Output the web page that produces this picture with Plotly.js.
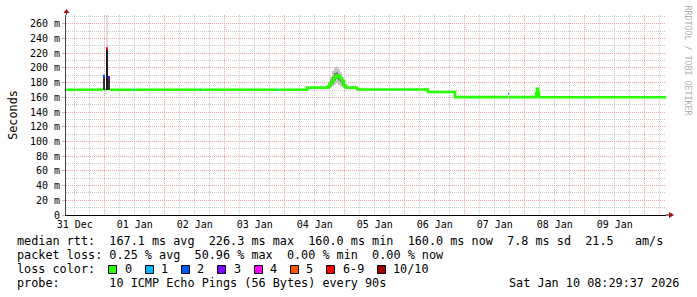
<!DOCTYPE html>
<html><head><meta charset="utf-8">
<script src="https://cdn.plot.ly/plotly-3.0.1.min.js"></script>
<style>html,body{margin:0;padding:0;background:#fff}#chart{width:697px;height:297px}</style>
</head><body><div id="chart"></div>
<script>
// ---- data ----
const rangeStart = '2025-12-31 08:29:37';
const rangeEnd = '2026-01-10 08:29:37';

// median RTT (ms) as steps; each value holds until the next time
const medianTimes = [
  '2025-12-31 08:29:37','2025-12-31 23:18','2026-01-01 00:06','2026-01-01 00:30','2026-01-01 01:18',
  '2026-01-01 02:06','2026-01-01 11:18','2026-01-01 11:42','2026-01-02 14:06','2026-01-02 14:30',
  '2026-01-03 20:30','2026-01-03 20:54','2026-01-04 08:54','2026-01-04 17:18','2026-01-04 18:06',
  '2026-01-04 18:54','2026-01-04 19:42','2026-01-04 20:30','2026-01-04 21:18','2026-01-04 22:06',
  '2026-01-04 22:54','2026-01-04 23:42','2026-01-05 00:30','2026-01-05 04:54','2026-01-06 09:18',
  '2026-01-06 20:06','2026-01-07 17:18','2026-01-07 17:42','2026-01-08 04:30','2026-01-08 04:54',
  '2026-01-08 05:18','2026-01-08 05:42','2026-01-10 08:29:37'
];
const medianValues = [
  170.3,189,170.3,226.3,187,
  170.3,170.3,170.3,170.3,170.3,
  170.3,170.3,173.2,175,179,
  183,187,190,188,186,
  182,176,173.2,170.6,167.2,
  160.3,165,160.3,166,171.5,
  167,160.1,160.0
];
// lost pings out of 10
const medianLoss = [
  0,2,0,6,3,
  0,1,0,1,0,
  1,0,0,0,0,
  0,0,0,0,0,
  0,0,0,0,0,
  0,1,0,0,0,
  0,0,0
];

// smoke (ping spread) samples, ms
const smokeTimes = [
  '2025-12-31 23:42','2026-01-01 00:54','2026-01-01 01:42',
  '2026-01-04 17:42','2026-01-04 18:30','2026-01-04 19:18','2026-01-04 20:06','2026-01-04 20:54',
  '2026-01-04 21:42','2026-01-04 22:30','2026-01-04 23:18','2026-01-05 00:06',
  '2026-01-04 17:42','2026-01-04 18:30','2026-01-04 19:18','2026-01-04 20:06','2026-01-04 20:54',
  '2026-01-04 21:42','2026-01-04 22:30','2026-01-04 23:18','2026-01-05 00:06',
  '2026-01-08 04:54'
];
const smokeLo = [170,170,170, 172,173,175,177,179,177,175,173,172, 173,176,179,183,185,183,181,177,173, 160];
const smokeHi = [190,226.3,189, 180,188,196,201,202,199,194,186,176, 177,183,188,193,194,191,188,182,174, 173];
const smokeDensity = [2,3,2, 0,0,0,0,0,0,0,0,0, 1,1,1,1,1,1,1,1,1, 1];

// max ping outlier
const maxTimes = ['2026-01-01 00:54'];
const maxLo = [226.3];
const maxHi = [280];

const yTickVals = [0,20,40,60,80,100,120,140,160,180,200,220,240,260];
const yTickText = ['0','20 m','40 m','60 m','80 m','100 m','120 m','140 m','160 m','180 m','200 m','220 m','240 m','260 m'];

const lossLabels = ['0','1','2','3','4','5','6-9','10/10'];
const lossColors = ['#26ff00','#00b8ff','#0059ff','#7e00ff','#ff00ff','#ff5500','#ff0000','#a00000'];

const statLines = [
  'median rtt:  167.1 ms avg  226.3 ms max  160.0 ms min  160.0 ms now  7.8 ms sd  21.5   am/s',
  'packet loss: 0.25 % avg  50.96 % max  0.00 % min  0.00 % now',
  'loss color:',
  'probe:       10 ICMP Echo Pings (56 Bytes) every 90s'
];
const stampText = 'Sat Jan 10 08:29:37 2026';
const watermark = 'RRDTOOL / TOBI OETIKER';

// ---- build ----
const MONO = 'DejaVu Sans Mono';
const L = 66, R = 666, T = 15, B = 215;
const px = x => (x - L) / (R - L);
const py = y => (B - y) / (B - T);

function bucket(l){ return l >= 10 ? 7 : (l >= 6 ? 6 : l); }
const segs = lossColors.map(() => ({x: [], y: []}));
let prevB = -1;
for (let i = 0; i < medianTimes.length - 1; i++) {
  const b = bucket(medianLoss[i]);
  const s = segs[b];
  if (b !== prevB && s.x.length) { s.x.push(null); s.y.push(null); }
  s.x.push(medianTimes[i], medianTimes[i + 1]);
  s.y.push(medianValues[i], medianValues[i]);
  prevB = b;
}

const shades = ['#c4c4c4', '#707070', '#343434', '#1c1c1c'];
const traces = [];
traces.push({
  type: 'bar', x: smokeTimes, base: smokeLo,
  y: smokeHi.map((h, i) => h - smokeLo[i]),
  width: 48 * 60 * 1000,
  marker: {color: smokeDensity.map(d => shades[d]), line: {width: 0}},
  hoverinfo: 'skip', showlegend: false
});
traces.push({
  type: 'bar', x: maxTimes, base: maxLo,
  y: maxHi.map((h, i) => h - maxLo[i]),
  width: 24 * 60 * 1000,
  marker: {color: '#c4c4c4', line: {width: 0}},
  hoverinfo: 'skip', showlegend: false
});
segs.forEach((s, b) => {
  if (!s.x.length) return;
  traces.push({
    type: 'scatter', mode: 'lines', x: s.x, y: s.y,
    line: {color: lossColors[b], width: 2.6},
    connectgaps: false, hoverinfo: 'skip', showlegend: false
  });
});

const RED = '#eda3a3', GRAY = '#cbcbcb', DASH = '1px,1px';

const annotations = [];
const shapes = [];
const lineY = [241, 255, 269, 283];
statLines.forEach((t, i) => {
  annotations.push({xref: 'paper', yref: 'paper', x: px(15), y: py(lineY[i]), xanchor: 'left', yanchor: 'middle',
    text: t.replace(/ /g, '&nbsp;'), showarrow: false, font: {family: MONO, size: 11.8, color: '#000'}});
});
annotations.push({xref: 'paper', yref: 'paper', x: px(681), y: py(lineY[3]), xanchor: 'right', yanchor: 'middle',
  text: stampText.replace(/ /g, '&nbsp;'), showarrow: false, font: {family: MONO, size: 11.8, color: '#000'}});
annotations.push({xref: 'paper', yref: 'paper', x: px(687.5), y: py(60), xanchor: 'center', yanchor: 'middle',
  text: watermark.replace(/ /g, '&nbsp;'), textangle: 90, showarrow: false, font: {family: MONO, size: 8.3, color: '#b0b0b0'}});

// loss colour key
const CW = 7.1;
let boxLeft = 16 + 13 * CW;
lossLabels.forEach((lab, i) => {
  shapes.push({type: 'rect', xref: 'paper', yref: 'paper', x0: px(Math.round(boxLeft) + 0.5), x1: px(Math.round(boxLeft) + 8.5),
    y0: py(265.5), y1: py(273.5), fillcolor: lossColors[i], line: {color: '#000', width: 1}, layer: 'above'});
  annotations.push({xref: 'paper', yref: 'paper', x: px(boxLeft + 14.5), y: py(lineY[2]), xanchor: 'left', yanchor: 'middle',
    text: lab, showarrow: false, font: {family: MONO, size: 11.8, color: '#000'}});
  boxLeft += 15 + (lab.length + 2) * CW;
});

// axis arrows
shapes.push({type: 'path', xref: 'paper', yref: 'paper', xsizemode: 'pixel', ysizemode: 'pixel', xanchor: 1, yanchor: 0,
  path: 'M 0 -0.5 L 3 -0.5 L 3 0.5 L 0 0.5 Z', fillcolor: '#000', line: {width: 0}});
shapes.push({type: 'path', xref: 'paper', yref: 'paper', xsizemode: 'pixel', ysizemode: 'pixel', xanchor: 1, yanchor: 0,
  path: 'M 3 -3 L 8 0 L 3 3 Z', fillcolor: '#9a1010', line: {width: 0}});
shapes.push({type: 'path', xref: 'paper', yref: 'paper', xsizemode: 'pixel', ysizemode: 'pixel', xanchor: 0, yanchor: 1,
  path: 'M 0 0 L 1 0 L 1 2 L 0 2 Z', fillcolor: '#444', line: {width: 0}});
shapes.push({type: 'path', xref: 'paper', yref: 'paper', xsizemode: 'pixel', ysizemode: 'pixel', xanchor: 0, yanchor: 1,
  path: 'M -2.5 2 L 0.5 6 L 3.5 2 Z', fillcolor: '#9a1010', line: {width: 0}});

const layout = {
  width: 697, height: 297,
  margin: {l: L, r: 697 - R, t: T, b: 297 - B, pad: 0},
  paper_bgcolor: '#fff', plot_bgcolor: '#fff',
  showlegend: false, barmode: 'overlay',
  font: {family: MONO, color: '#000'},
  xaxis: {
    type: 'date', range: [rangeStart, rangeEnd], fixedrange: true,
    tick0: '2025-12-31', dtick: 86400000, tickformat: '%d %b', ticklabelmode: 'period',
    showgrid: true, gridcolor: RED, griddash: DASH, gridwidth: 1,
    minor: {tick0: '2025-12-31', dtick: 21600000, showgrid: true, gridcolor: GRAY, griddash: DASH, gridwidth: 1},
    showline: true, linecolor: '#000', linewidth: 1, zeroline: false,
    ticks: '', tickfont: {family: MONO, size: 10, color: '#000'}
  },
  yaxis: {
    range: [0, 272], fixedrange: true,
    tickmode: 'array', tickvals: yTickVals, ticktext: yTickText,
    showgrid: true, gridcolor: RED, griddash: DASH, gridwidth: 1,
    minor: {dtick: 10, showgrid: true, gridcolor: GRAY, griddash: DASH, gridwidth: 1},
    showline: true, linecolor: '#444', linewidth: 1, zeroline: false,
    ticks: 'outside', ticklen: 3, tickcolor: RED,
    tickfont: {family: MONO, size: 10, color: '#000'},
    title: {text: 'Seconds', font: {family: MONO, size: 11.8, color: '#000'}, standoff: 9}
  },
  annotations: annotations,
  shapes: shapes
};

Plotly.newPlot('chart', traces, layout, {displayModeBar: false, staticPlot: true});
</script>
</body></html>
